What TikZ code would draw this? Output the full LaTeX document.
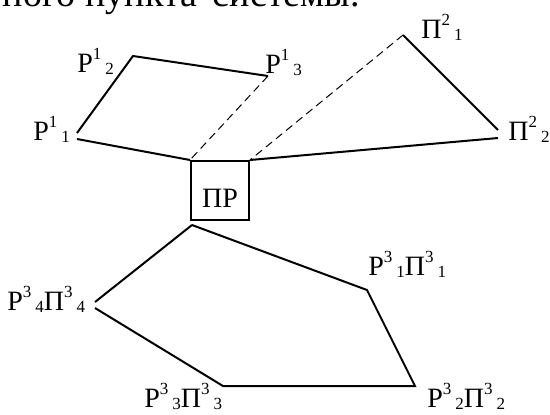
\documentclass[tikz,border=0pt]{standalone}
\usepackage{fontspec}
\setmainfont{Liberation Serif}
\usepackage{tikz}
\tikzset{
  edge/.style={line width=1pt},
  hidden/.style={line width=0.5pt, dash pattern=on 4pt off 2.5pt},
  lbl/.style={anchor=base west, inner sep=0pt, font=\fontsize{14}{16}\selectfont},
  prbox/.style={draw, line width=1pt, minimum width=29pt, minimum height=29.5pt, text height=16.5pt, inner sep=0pt, font=\fontsize{14}{16}\selectfont}
}
\newcommand{\idxfont}{\fontsize{8.5}{9}\selectfont}
\newcommand{\ix}[2]{\raisebox{6.5pt}{\idxfont #1}\kern2pt\raisebox{-1pt}{\idxfont #2}}

\begin{document}
\begin{tikzpicture}[x=0.5pt, y=-0.5pt]
  \useasboundingbox (0,0) rectangle (550,414);
  \clip (0,0) rectangle (550,414);
  % cut-off line of the text above
  \node[anchor=base east, inner sep=0pt, font=\fontsize{19}{22}\selectfont] (head) at (360,6) {ного пункта\hspace{8pt}системы.};
  % corner points
  \coordinate (r11a) at (77,133);
  \coordinate (r11b) at (77,139);
  \coordinate (r12) at (133,56);
  \coordinate (r13) at (268,76);
  \coordinate (p21) at (403,35);
  \coordinate (p22a) at (498,130);
  \coordinate (p22b) at (498,138);
  \coordinate (rp1) at (367,290);
  \coordinate (rp2) at (415,386);
  \coordinate (rp3) at (223,386);
  \coordinate (rp4a) at (95,302);
  \coordinate (rp4b) at (95,308);
  \coordinate (prb) at (192,225);
  \node[prbox] (pr) at (220,190.5) {ПР};
  % labels
  \node[lbl] (lr11) at (33,140) {Р\ix{1}{1}};
  \node[lbl] (lr12) at (77,72) {Р\ix{1}{2}};
  \node[lbl] (lr13) at (265,73) {Р\ix{1}{3}};
  \node[lbl] (lp21) at (421,38) {П\ix{2}{1}};
  \node[lbl] (lp22) at (508,140) {П\ix{2}{2}};
  \node[lbl] (lrp1) at (368,275) {Р\ix{3}{1}П\ix{3}{1}};
  \node[lbl] (lrp2) at (427,407) {Р\ix{3}{2}П\ix{3}{2}};
  \node[lbl] (lrp3) at (144,407) {Р\ix{3}{3}П\ix{3}{3}};
  \node[lbl] (lrp4) at (7,310) {Р\ix{3}{4}П\ix{3}{4}};
  % edges
  \draw[edge] (r11a) -- (r12) -- (r13);
  \draw[edge] (r11b) -- (pr.north west);
  \draw[hidden] (r13) -- (pr.north west);
  \draw[hidden] (p21) -- (pr.north east);
  \draw[edge] (p21) -- (p22a);
  \draw[edge] (p22b) -- (pr.north east);
  \draw[edge] (prb) -- (rp1) -- (rp2) -- (rp3) -- (rp4b);
  \draw[edge] (rp4a) -- (prb);
\end{tikzpicture}
\end{document}
